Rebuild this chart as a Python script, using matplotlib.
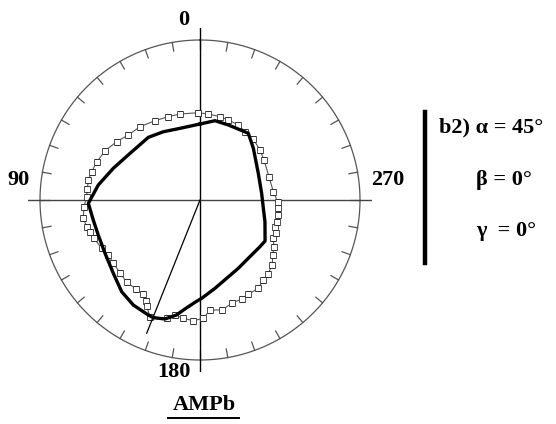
import numpy as np
import matplotlib
matplotlib.use("Agg")
import matplotlib.pyplot as plt
from matplotlib.lines import Line2D

# --- Data (angle in degrees, 0 at top, counter-clockwise; radius as fraction of outer ring) ---
OUTER_PX = 160.0

sq_theta = [1.1, 13.1, 20.8, 29.6, 39.3, 47.8, 55.0, 62.6, 70.0, 75.4, 79.8, 84.6,
            88.3, 93.3, 98.9, 103.3, 106.1, 109.9, 116.2, 121.0, 126.1, 132.3, 138.3,
            144.3, 148.7, 151.9, 153.2, 156.8, 164.3, 167.7, 172.0, 176.8, 181.6,
            185.2, 191.2, 197.1, 202.8, 207.1, 213.4, 218.4, 222.5, 228.0, 232.9,
            237.7, 242.4, 246.3, 250.4, 254.0, 259.1, 264.0, 268.7, 276.5, 288.7,
            302.0, 309.8, 318.7, 326.6, 332.9, 340.5, 346.5, 354.5, 361.1]
sq_r_px = [87.3, 88.3, 89.1, 91.2, 94.7, 96.8, 101.7, 107.0, 110.0, 112.0, 113.5, 113.2,
           113.4, 116.2, 118.1, 116.4, 114.5, 112.7, 109.5, 106.9, 107.3, 108.1, 110.2,
           109.6, 110.4, 114.5, 118.4, 127.0, 122.9, 117.7, 119.5, 120.9, 118.4,
           110.5, 112.1, 108.1, 107.4, 106.0, 105.8, 102.0, 100.3, 97.3, 91.1,
           87.5, 82.7, 82.7, 79.6, 80.5, 79.1, 78.0, 77.7, 73.8, 72.8,
           75.5, 78.1, 80.8, 81.8, 84.2, 84.9, 85.7, 86.4, 87.3]

thick_theta = [0.0, 15.6, 28.3, 39.5, 56.3, 69.9, 81.6, 91.7, 100.6, 109.0, 119.3,
               130.2, 139.5, 147.6, 155.8, 158.4, 163.6, 168.5, 171.4, 177.2, 181.0,
               189.6, 198.8, 209.3, 219.6, 232.1, 237.8, 251.5, 262.5, 276.2, 294.6,
               314.1, 324.1, 339.3, 349.3, 360.0]
thick_r_px = [76.0, 74.4, 77.5, 81.2, 84.1, 92.3, 102.8, 111.7, 108.6, 107.6, 108.9,
              113.5, 120.6, 124.4, 126.1, 126.6, 124.0, 117.3, 111.3, 102.4, 98.3,
              89.6, 82.7, 78.3, 75.7, 76.0, 76.9, 68.5, 63.9, 62.0, 64.1,
              74.3, 82.4, 80.2, 80.7, 76.0]

mean_theta = 158.2
mean_r = 0.897

ring_ticks = np.arange(0, 360, 10)
axis_labels = ["0", "90", "180", "270"]

W, H = 556, 424
SERIF = ["Liberation Serif", "DejaVu Serif"]


def fx(px):
    return px / W


def fy(py):
    return 1 - py / H


fig = plt.figure(figsize=(W / 100, H / 100), dpi=100)
fig.patch.set_facecolor("white")

# polar axes: centre at (200, 200) px, axis arms 172 px long
RMAX = 172 / OUTER_PX
ax = fig.add_axes([fx(28), fy(372), 344 / W, 344 / H], projection="polar")
ax.set_theta_zero_location("N")
ax.set_theta_direction(1)
ax.set_rlim(0, RMAX)
ax.grid(False)
ax.set_xticks([])
ax.set_yticks([])
ax.spines["polar"].set_visible(False)
ax.patch.set_alpha(0)

# outer ring + ticks
ring = np.linspace(0, 2 * np.pi, 400)
ax.plot(ring, np.ones_like(ring), color="#555555", lw=0.9)
for t in ring_ticks:
    ax.plot([np.radians(t)] * 2, [0.945, 1.0], color="#555555", lw=0.9)

# cross-hair axes
ax.plot([0, 0, np.pi], [RMAX, 0, RMAX], color="black", lw=1.0)
ax.plot([np.pi / 2, 0, 3 * np.pi / 2], [RMAX, 0, RMAX], color="#444444", lw=1.0)

# curves
sq_t = np.radians(sq_theta)
sq_r = np.array(sq_r_px) / OUTER_PX
ax.plot(sq_t, sq_r, color="#555555", lw=0.8, marker="s", ms=3.8,
        mfc="white", mec="#333333", mew=0.6)

th_t = np.radians(thick_theta)
th_r = np.array(thick_r_px) / OUTER_PX
ax.plot(th_t, th_r, color="black", lw=2.4, solid_joinstyle="round")

# mean direction
ax.plot([0, np.radians(mean_theta)], [0, mean_r], color="black", lw=0.9)

# angle labels
lab_kw = dict(family=SERIF, fontweight="bold", fontsize=16, ha="center", va="center")
fig.text(fx(183.5), fy(20), axis_labels[0], **lab_kw)
fig.text(fx(19), fy(180), axis_labels[1], **lab_kw)
fig.text(fx(174), fy(372), axis_labels[2], **lab_kw)
fig.text(fx(388), fy(180), axis_labels[3], **lab_kw)

# orientation legend
fig.add_artist(Line2D([fx(425), fx(425)], [fy(112), fy(263)], color="black", lw=3.2))
leg_kw = dict(family=SERIF, fontweight="bold", fontsize=16, ha="left", va="center")
fig.text(fx(439), fy(127), "b2) α = 45°", **leg_kw)
fig.text(fx(476), fy(180), "β = 0°", **leg_kw)
fig.text(fx(476), fy(231), "γ  = 0°", **leg_kw)

# title
fig.text(fx(204), fy(405), "AMPb", family=SERIF, fontweight="bold", fontsize=16,
         ha="center", va="center")
fig.add_artist(Line2D([fx(168), fx(239)], [fy(417.5), fy(417.5)], color="black", lw=1.4))

fig.savefig("out.png", dpi=100, facecolor="white")
